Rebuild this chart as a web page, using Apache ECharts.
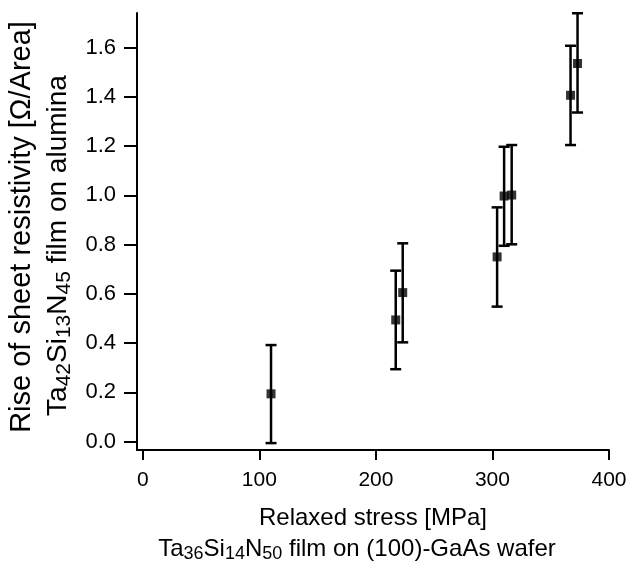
<!DOCTYPE html>
<html>
<head>
<meta charset="utf-8">
<script src="https://cdn.jsdelivr.net/npm/echarts@6/dist/echarts.min.js"></script>
<style>
html,body{margin:0;padding:0;background:#fff;}
#chart{width:630px;height:564px;}
</style>
</head>
<body>
<div id="chart"></div>
<script>
// Data
const stress = [110, 217, 223, 304, 310, 316.5, 367, 373];
const resistivity = [0.194, 0.494, 0.605, 0.750, 0.997, 1.001, 1.406, 1.535];
const errLow = [-0.006, 0.294, 0.403, 0.548, 0.795, 0.801, 1.204, 1.336];
const errHigh = [0.392, 0.694, 0.805, 0.951, 1.197, 1.204, 1.607, 1.739];
const xTicks = [0, 100, 200, 300, 400];
const yTicks = [0, 0.2, 0.4, 0.6, 0.8, 1.0, 1.2, 1.4, 1.6];

const FONT = 'Arial, "Liberation Sans", sans-serif';
const chart = echarts.init(document.getElementById('chart'), null, {renderer: 'canvas'});

const points = stress.map((x, i) => [x, resistivity[i]]);
const errs = stress.map((x, i) => [x, errLow[i], errHigh[i]]);

const option = {
  backgroundColor: '#fff',
  animation: false,
  grid: {left: 137, right: 21, top: 13, bottom: 114, containLabel: false, outerBoundsMode: 'none'},
  xAxis: {
    type: 'value', min: -5, max: 400,
    splitLine: {show: false},
    axisLine: {show: true, onZero: false, lineStyle: {color: '#000', width: 2}},
    axisTick: {show: true, inside: false, length: 10, customValues: xTicks, lineStyle: {color: '#000', width: 2}},
    axisLabel: {customValues: xTicks, color: '#000', fontSize: 21, fontFamily: FONT, margin: 20},
    nameLocation: 'middle',
    nameGap: 53,
    name: '{a|Relaxed stress [MPa]}\n{b|Ta}{s|36}{b|Si}{s|14}{b|N}{s|50}{c| film on (100)-GaAs wafer}',
    nameTextStyle: {
      color: '#000', fontFamily: FONT, fontSize: 24,
      rich: {
        a: {fontSize: 24, fontFamily: FONT, color: '#000', lineHeight: 31},
        b: {fontSize: 24, fontFamily: FONT, color: '#000', lineHeight: 31},
        s: {fontSize: 18, fontFamily: FONT, color: '#000', lineHeight: 31, padding: [10, 0, 0, 0]},
        c: {fontSize: 24, fontFamily: FONT, color: '#000', lineHeight: 31, padding: [0, 32, 0, 0]}
      }
    }
  },
  yAxis: {
    type: 'value', min: -0.034, max: 1.74,
    splitLine: {show: false},
    axisLine: {show: true, onZero: false, lineStyle: {color: '#000', width: 2}},
    axisTick: {show: true, inside: false, length: 13, customValues: yTicks, lineStyle: {color: '#000', width: 2}},
    axisLabel: {customValues: yTicks, color: '#000', fontSize: 22, fontFamily: FONT, margin: 21,
      formatter: v => v.toFixed(1)},
    nameLocation: 'middle',
    nameRotate: 90,
    nameGap: 57,
    name: '{a|Rise of sheet resistivity [Ω/Area]}\n{b|Ta}{s|42}{b|Si}{s|13}{b|N}{s|45}{c| film on alumina}',
    nameTextStyle: {
      color: '#000', fontFamily: FONT, fontSize: 28,
      rich: {
        a: {fontSize: 29, fontFamily: FONT, color: '#000', lineHeight: 36, padding: [0, 0, 0, 9]},
        b: {fontSize: 28, fontFamily: FONT, color: '#000', lineHeight: 36},
        s: {fontSize: 21, fontFamily: FONT, color: '#000', lineHeight: 36, padding: [12, 0, 0, 0]},
        c: {fontSize: 28, fontFamily: FONT, color: '#000', lineHeight: 36, padding: [0, 28, 0, 0]}
      }
    }
  },
  series: [
    {
      type: 'custom',
      data: errs,
      renderItem: function (params, api) {
        const x = api.value(0);
        const lo = api.coord([x, api.value(1)]);
        const hi = api.coord([x, api.value(2)]);
        const hw = 5.5;
        const st = {stroke: '#000', lineWidth: 2.5};
        return {
          type: 'group',
          children: [
            {type: 'line', shape: {x1: lo[0], y1: lo[1], x2: hi[0], y2: hi[1]}, style: st},
            {type: 'line', shape: {x1: lo[0] - hw, y1: lo[1], x2: lo[0] + hw, y2: lo[1]}, style: st},
            {type: 'line', shape: {x1: hi[0] - hw, y1: hi[1], x2: hi[0] + hw, y2: hi[1]}, style: st}
          ]
        };
      },
      z: 2
    },
    {
      type: 'scatter',
      data: points,
      symbol: 'rect',
      symbolSize: 9,
      itemStyle: {color: '#000'},
      z: 3
    }
  ]
};
chart.setOption(option);
</script>
</body>
</html>
